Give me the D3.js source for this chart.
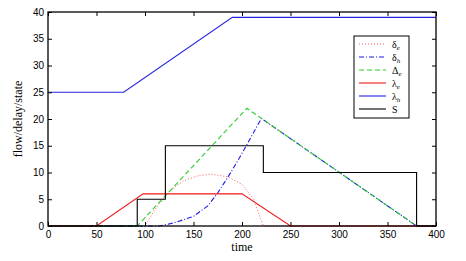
<!DOCTYPE html>
<html>
<head>
<meta charset="utf-8">
<script src="https://cdn.jsdelivr.net/npm/d3@7"></script>
<style>
  body { margin: 0; background: #fff; }
  svg { display: block; }
</style>
</head>
<body>
<svg id="chart" width="466" height="261"></svg>
<script>
// values, [time, value]
const deltaE = [[0, 0], [100, 0], [110, 3], [125, 6.5], [140, 8.5], [155, 9.4], [168, 9.7], [185, 9.2], [200, 7.8], [212, 5], [222, 0], [400, 0]];
const deltaH = [[0, 0], [115, 0], [130, 0.6], [150, 1.8], [165, 3.8], [175, 6.2], [185, 9], [196, 12.3], [205, 15.2], [220, 20.1], [380, 0], [400, 0]];
const bigDeltaE = [[0, 0], [92, 0], [205, 22], [380, 0], [400, 0]];
const lambdaE = [[0, 0], [50, 0], [98, 6], [200, 6], [250, 0], [400, 0]];
const lambdaH = [[0, 25], [78, 25], [190, 39], [400, 39]];
const stateS = [[0, 0], [92, 0], [92, 5], [121, 5], [121, 15], [222, 15], [222, 10], [380, 10], [380, 0], [400, 0]];

const xTicks = [0, 50, 100, 150, 200, 250, 300, 350, 400];
const yTicks = [0, 5, 10, 15, 20, 25, 30, 35, 40];

const series = [
    { name: "δ", sub: "e", data: deltaE, color: "#ff5a5a", dash: "1,2", width: 1 },
    { name: "δ", sub: "h", data: deltaH, color: "#1a1aee", dash: "5,2,1,2", width: 1.1 },
    { name: "Δ", sub: "e", data: bigDeltaE, color: "#2ecc2e", dash: "5,3", width: 1.1 },
    { name: "λ", sub: "e", data: lambdaE, color: "#f01818", dash: null, width: 1.1 },
    { name: "λ", sub: "h", data: lambdaH, color: "#2424e0", dash: null, width: 1.1 },
    { name: "S", sub: null, data: stateS, color: "#000", dash: null, width: 1.1 }
];

const width = 466;
const height = 261;
const margin = { top: 12, right: 30, bottom: 35, left: 48 };

const svg = d3.select("#chart");

const x = d3.scaleLinear().domain([0, 400]).range([margin.left, width - margin.right]);
const y = d3.scaleLinear().domain([0, 40]).range([height - margin.bottom, margin.top]);

const line = d3.line().x(d => x(d[0])).y(d => y(d[1]));

// series, drawn under the frame
const gLines = svg.append("g").attr("fill", "none");
series.forEach(s => {
    gLines.append("path")
        .datum(s.data)
        .attr("d", line)
        .attr("stroke", s.color)
        .attr("stroke-width", s.width)
        .attr("stroke-dasharray", s.dash);
});

// matlab style frame with ticks pointing in
const tickFont = "10px 'Liberation Sans', Arial, sans-serif";

svg.append("g")
    .attr("transform", `translate(0,${y(0)})`)
    .call(d3.axisBottom(x).tickValues(xTicks).tickSizeInner(-4).tickSizeOuter(0).tickPadding(5))
    .call(g => g.select(".domain").remove())
    .call(g => g.selectAll("text").style("font", tickFont).attr("fill", "#000"));

svg.append("g")
    .attr("transform", `translate(0,${y(40)})`)
    .call(d3.axisTop(x).tickValues(xTicks).tickSizeInner(-4).tickSizeOuter(0).tickFormat(""))
    .call(g => g.select(".domain").remove());

svg.append("g")
    .attr("transform", `translate(${x(0)},0)`)
    .call(d3.axisLeft(y).tickValues(yTicks).tickSizeInner(-4).tickSizeOuter(0).tickPadding(4))
    .call(g => g.select(".domain").remove())
    .call(g => g.selectAll("text").style("font", tickFont).attr("fill", "#000"));

svg.append("g")
    .attr("transform", `translate(${x(400)},0)`)
    .call(d3.axisRight(y).tickValues(yTicks).tickSizeInner(-4).tickSizeOuter(0).tickFormat(""))
    .call(g => g.select(".domain").remove());

svg.append("rect")
    .attr("x", x(0))
    .attr("y", y(40))
    .attr("width", x(400) - x(0))
    .attr("height", y(0) - y(40))
    .attr("fill", "none")
    .attr("stroke", "#000")
    .attr("stroke-width", 1.3);

// axis titles
svg.append("text")
    .attr("x", (x(0) + x(400)) / 2)
    .attr("y", 251)
    .attr("text-anchor", "middle")
    .style("font", "12px 'Liberation Serif', 'DejaVu Serif', serif")
    .text("time");

svg.append("text")
    .attr("transform", `translate(22,${(y(0) + y(40)) / 2}) rotate(-90)`)
    .attr("text-anchor", "middle")
    .style("font", "12px 'Liberation Serif', 'DejaVu Serif', serif")
    .text("flow/delay/state");

// legend
const legend = svg.append("g").attr("transform", "translate(354,36)");
legend.append("rect")
    .attr("width", 55)
    .attr("height", 82)
    .attr("fill", "#fff")
    .attr("stroke", "#000")
    .attr("stroke-width", 1);

series.forEach((s, i) => {
    const ly = 8 + i * 13;
    legend.append("line")
        .attr("x1", 5).attr("x2", 32)
        .attr("y1", ly).attr("y2", ly)
        .attr("stroke", s.color)
        .attr("stroke-width", s.width)
        .attr("stroke-dasharray", s.dash);
    const t = legend.append("text")
        .attr("x", 38)
        .attr("y", ly + 3.5)
        .style("font", "10px 'Liberation Serif', 'DejaVu Serif', serif");
    t.append("tspan").text(s.name);
    if (s.sub) {
        t.append("tspan")
            .attr("dy", 2.5)
            .style("font-size", "7px")
            .style("font-style", "italic")
            .text(s.sub);
    }
});
</script>
</body>
</html>
